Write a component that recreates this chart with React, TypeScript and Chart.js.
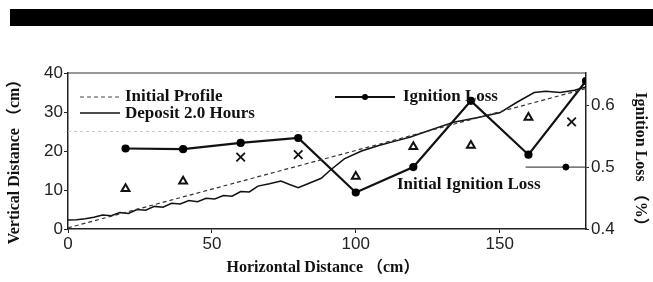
import React, { useEffect, useRef } from 'react';
import { Chart, registerables } from 'chart.js';
Chart.register(...registerables);

// ---- data ----
const ignitionX = [20, 40, 60, 80, 100, 120, 140, 160, 180];
const ignitionLoss = [0.530, 0.529, 0.539, 0.547, 0.459, 0.500, 0.607, 0.520, 0.639];
const triangleX = [20, 40, 100, 120, 140, 160];
const triangleY = [0.465, 0.477, 0.485, 0.533, 0.535, 0.580];
const crossX = [60, 80, 175];
const crossY = [0.516, 0.520, 0.573];
const initialProfileX = [0, 180];
const initialProfileY = [0.3, 36];
const depositX = [0, 3, 6, 9, 12, 15, 18, 21, 24, 27, 30, 33, 36, 39, 42, 45, 48, 51, 54, 57, 60, 63, 66, 70, 74, 77, 80, 84, 88, 91, 96, 102, 108, 114, 119, 126, 134, 142, 150, 156, 162, 166, 171, 176, 180];
const depositY = [2.3, 2.4, 2.6, 3.0, 3.6, 3.4, 4.2, 4.0, 5.0, 4.8, 5.8, 5.6, 6.6, 6.4, 7.3, 7.0, 7.9, 7.7, 8.6, 8.4, 9.6, 9.5, 11.0, 11.6, 12.3, 11.4, 10.6, 11.8, 13.0, 15.0, 18.0, 20.0, 21.4, 22.6, 23.6, 25.4, 27.4, 28.5, 29.8, 32.5, 35.0, 35.3, 35.0, 35.6, 36.4];
const initialIgnitionX = [159, 173, 180];
const initialIgnitionY = [0.5, 0.5, 0.5];
const waterLevelX = [0, 115];
const waterLevelY = [25, 25];
const xTicks = [0, 50, 100, 150];
const yTicks = [0, 10, 20, 30, 40];
const y1Ticks = [0.4, 0.5, 0.6];

const pts = (xs: number[], ys: number[]) => xs.map((x, i) => ({ x, y: ys[i] }));

const SERIF = "bold 17px 'Liberation Serif', 'Noto Sans CJK JP', serif";
const TITLE = "bold 16px 'Liberation Serif', 'Noto Sans CJK JP', serif";
const TICKFONT = { family: "'Liberation Sans Narrow', 'Liberation Sans', sans-serif", size: 17 };

const decor = {
  id: 'decor',
  beforeDraw(chart: any) {
    const ctx = chart.ctx;
    ctx.save();
    ctx.fillStyle = '#fff';
    ctx.fillRect(0, 0, chart.width, chart.height);
    ctx.fillStyle = '#000';
    ctx.fillRect(10, 9, chart.width - 10, 17);
    ctx.restore();
  },
  afterDraw(chart: any) {
    const ctx = chart.ctx;
    const ca = chart.chartArea;
    ctx.save();
    // top frame
    ctx.strokeStyle = '#333';
    ctx.lineWidth = 1.2;
    ctx.beginPath();
    ctx.moveTo(ca.left, ca.top);
    ctx.lineTo(ca.right, ca.top);
    ctx.stroke();

    // legend
    ctx.strokeStyle = '#444';
    ctx.lineWidth = 1;
    ctx.setLineDash([4, 3]);
    ctx.beginPath();
    ctx.moveTo(ca.left + 12, 97);
    ctx.lineTo(ca.left + 52, 97);
    ctx.stroke();
    ctx.setLineDash([]);
    ctx.strokeStyle = '#111';
    ctx.lineWidth = 1.5;
    ctx.beginPath();
    ctx.moveTo(ca.left + 12, 113);
    ctx.lineTo(ca.left + 52, 113);
    ctx.stroke();
    ctx.lineWidth = 2;
    ctx.beginPath();
    ctx.moveTo(335, 97);
    ctx.lineTo(395, 97);
    ctx.stroke();
    ctx.fillStyle = '#000';
    ctx.beginPath();
    ctx.arc(365, 97, 3, 0, Math.PI * 2);
    ctx.fill();

    ctx.font = SERIF;
    ctx.fillStyle = '#111';
    ctx.textBaseline = 'middle';
    ctx.textAlign = 'left';
    ctx.fillText('Initial Profile', 125, 97);
    ctx.fillText('Deposit 2.0 Hours', 125, 114);
    ctx.fillText('Ignition Loss', 403, 97);
    ctx.fillText('Initial Ignition Loss', 397, 185);

    // axis titles
    ctx.font = TITLE;
    ctx.textAlign = 'center';
    ctx.fillText('Horizontal Distance （cm）', 323, 268);
    ctx.save();
    ctx.translate(15, 158);
    ctx.rotate(-Math.PI / 2);
    ctx.fillText('Vertical Distance （cm）', 0, 0);
    ctx.restore();
    ctx.save();
    ctx.translate(640, 163);
    ctx.rotate(Math.PI / 2);
    ctx.fillText('Ignition Loss （%）', 0, 0);
    ctx.restore();
    ctx.restore();
  },
};

export default function App() {
  const ref = useRef<HTMLCanvasElement>(null);
  useEffect(() => {
    if (!ref.current) return;
    const chart = new Chart(ref.current, {
      type: 'scatter',
      data: {
        datasets: [
          {
            label: 'Water Level',
            data: pts(waterLevelX, waterLevelY),
            showLine: true,
            borderColor: '#c8c8c8',
            borderWidth: 1,
            borderDash: [3, 3],
            pointRadius: 0,
            yAxisID: 'y',
          },
          {
            label: 'Initial Profile',
            data: pts(initialProfileX, initialProfileY),
            showLine: true,
            borderColor: '#333',
            borderWidth: 1.2,
            borderDash: [4, 3],
            pointRadius: 0,
            yAxisID: 'y',
          },
          {
            label: 'Deposit 2.0 Hours',
            data: pts(depositX, depositY),
            showLine: true,
            borderColor: '#111',
            borderWidth: 1.5,
            pointRadius: 0,
            yAxisID: 'y',
          },
          {
            label: 'Ignition Loss',
            data: pts(ignitionX, ignitionLoss),
            showLine: true,
            borderColor: '#111',
            borderWidth: 2.2,
            pointRadius: 3,
            pointBackgroundColor: '#000',
            pointBorderColor: '#000',
            yAxisID: 'y1',
          },
          {
            label: 'Triangles',
            data: pts(triangleX, triangleY),
            showLine: false,
            pointStyle: 'triangle',
            pointRadius: 4.5,
            pointBorderWidth: 2,
            pointBackgroundColor: '#fff',
            pointBorderColor: '#111',
            yAxisID: 'y1',
          },
          {
            label: 'Crosses',
            data: pts(crossX, crossY),
            showLine: false,
            pointStyle: 'crossRot',
            pointRadius: 6,
            pointBorderWidth: 1.8,
            pointBorderColor: '#111',
            yAxisID: 'y1',
          },
          {
            label: 'Initial Ignition Loss',
            data: pts(initialIgnitionX, initialIgnitionY),
            showLine: true,
            borderColor: '#222',
            borderWidth: 1,
            pointRadius: [0, 3, 0],
            pointBackgroundColor: '#000',
            pointBorderColor: '#000',
            yAxisID: 'y1',
          },
        ],
      },
      plugins: [decor],
      options: {
        animation: false,
        responsive: false,
        events: [],
        layout: { padding: { top: 73, left: 0, right: 0, bottom: 0 } },
        plugins: { legend: { display: false }, tooltip: { enabled: false }, title: { display: false } },
        scales: {
          x: {
            type: 'linear',
            min: 0,
            max: 180,
            afterBuildTicks: (s: any) => { s.ticks = xTicks.map((v) => ({ value: v })); },
            afterFit: (s: any) => { s.height = 53; },
            grid: { drawOnChartArea: false, tickLength: 4, color: '#222' },
            border: { color: '#222', width: 1.5 },
            ticks: { font: TICKFONT, color: '#222', padding: 1, maxRotation: 0 },
          },
          y: {
            position: 'left',
            min: 0,
            max: 40,
            afterBuildTicks: (s: any) => { s.ticks = yTicks.map((v) => ({ value: v })); },
            afterFit: (s: any) => { s.width = 68; },
            grid: { drawOnChartArea: false, tickLength: 4, color: '#222' },
            border: { color: '#222', width: 1.5 },
            ticks: { font: TICKFONT, color: '#222', padding: 1 },
          },
          y1: {
            position: 'right',
            min: 0.4,
            max: 0.652,
            afterBuildTicks: (s: any) => { s.ticks = y1Ticks.map((v) => ({ value: v })); },
            afterFit: (s: any) => { s.width = 67; },
            grid: { drawOnChartArea: false, tickLength: 3, color: '#222' },
            border: { color: '#222', width: 1.5 },
            ticks: { font: TICKFONT, color: '#222', padding: 2, callback: (v: any) => Number(v).toFixed(1) },
          },
        },
      },
    } as any);
    return () => chart.destroy();
  }, []);
  return (
    <div style={{ position: 'absolute', left: 0, top: 0, width: 653, height: 282 }}>
      <canvas ref={ref} width={653} height={282} style={{ width: 653, height: 282, display: 'block' }} />
    </div>
  );
}
